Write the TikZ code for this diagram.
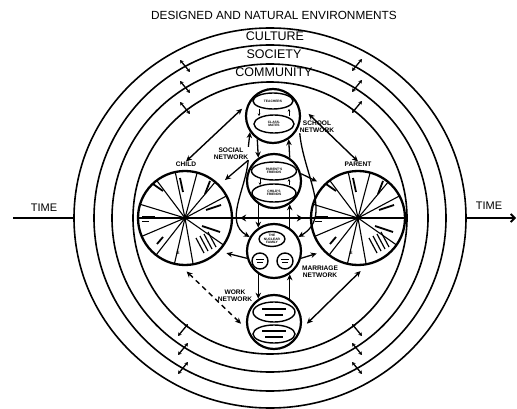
\documentclass[tikz,border=0pt]{standalone}
\usepackage{fontspec}
\setmainfont{Liberation Sans}
\usetikzlibrary{arrows.meta,shapes.geometric}
\tikzset{
  ring/.style={line width=1.6pt},
  ringlab/.style={font=\fontsize{12.5}{13}\selectfont, inner sep=0pt},
  timelab/.style={font=\fontsize{11}{12}\selectfont, inner sep=0pt},
  unit/.style={circle, draw, line width=2.2pt, minimum size=54pt, inner sep=0pt},
  wheelnode/.style={circle, draw, line width=2.3pt, minimum size=94pt, inner sep=0pt},
  ell/.style={ellipse, draw, line width=1.4pt, inner sep=0pt, font=\fontsize{3.3}{3.6}\selectfont\bfseries, align=center},
  lab/.style={font=\fontsize{6.6}{7.4}\selectfont\bfseries, align=center, inner sep=0pt},
  link/.style={<->, line width=1.4pt},
  conn/.style={->, line width=1.3pt},
  tiny/.style={->, line width=0.8pt, >={Stealth[length=2.5pt,width=2.5pt]}},
  xmark/.style={<->, line width=1.3pt, >={Stealth[length=3.5pt,width=4pt]}},
  spoke/.style={line width=1.1pt},
  blot/.style={line width=1.8pt},
  bar/.style={line width=1.3pt},
  wheel/.pic={
    \foreach \a in {0,28,50,75,102,127,163,180,203,232,257,280,325}
      \draw[spoke] (0,0) -- (-\a:47);
    \draw[blot] (-5,-40) -- (-2,-26);
    \draw[blot] (25,-37) -- (20,-24);
    \draw[blot] (36,-13) -- (21,-8);
    \draw[blot] (17,8) -- (35,14);
    \draw[blot] (-22,-27) -- (-32,-34);
    \draw[blot] (-22,19) -- (-28,26);
    \draw[line width=1pt] (-43,-2) -- (-30,-2);
    \draw[line width=1pt] (-43,3) -- (-36,3);
    \foreach \d in {0,4,8,12} \draw[line width=1.2pt] (11+\d,20-\d/2) -- (19+\d,35-\d/2);
    \node[font=\fontsize{4.5}{4.5}\selectfont\bfseries, inner sep=0pt] at (-7,35) {E};
  },
}
\begin{document}
\begin{tikzpicture}[x=1pt,y=-1pt, >={Stealth[length=6pt,width=5.5pt]}]
\useasboundingbox (0,0) rectangle (517,409);
% environment rings
\foreach \rx/\ry in {137pt/136pt,158pt/154pt,176pt/173pt,196pt/190pt}
  \draw[ring] (270,218) ellipse [x radius=\rx, y radius=\ry];
\node[font=\fontsize{11.8}{13}\selectfont, inner sep=0pt] (title) at (274,15) {DESIGNED AND NATURAL ENVIRONMENTS};
\node[ringlab] (culture) at (275,36) {CULTURE};
\node[ringlab] (society) at (274,54) {SOCIETY};
\node[ringlab] (community) at (274,72) {COMMUNITY};
% time axis
\node[timelab] (timeL) at (44,208) {TIME};
\node[timelab] (timeR) at (489,206) {TIME};
\coordinate (tL0) at (13,218);
\coordinate (tL1) at (74,218);
\coordinate (tR0) at (466,218);
\coordinate (tR1) at (516,218);
\draw[line width=1.8pt] (tL0) -- (tL1);
\draw[line width=1.8pt, -{Straight Barb[length=4pt,width=8pt]}] (tR0) -- (tR1);
% boundary crossing marks
\foreach \x/\y in {185/66,185/87,185/108}
  \draw[xmark] (\x-5,\y-6) -- (\x+5,\y+6);
\foreach \x/\y in {357/65,357/86,357/107}
  \draw[xmark] (\x+5,\y-6) -- (\x-5,\y+6);
\foreach \x/\y in {183/330,183/349,183/368}
  \draw[xmark] (\x-5,\y+6) -- (\x+5,\y-6);
\foreach \x/\y in {357/330,357/349,357/368}
  \draw[xmark] (\x+5,\y+6) -- (\x-5,\y-6);
% wheels
\pic at (185,218) {wheel};
\pic at (358,218) {wheel};
\node[wheelnode] (child) at (185,218) {};
\node[wheelnode] (parent) at (358,218) {};
\node[lab] (childlab) at (186,164) {CHILD};
\node[lab] (parentlab) at (358,164) {PARENT};
% horizontal link
\draw[line width=1.2pt] (child.center) -- (parent.center);
\draw[<->, line width=2.8pt, >={Stealth[length=6pt,width=7pt]}, shorten <=7pt, shorten >=7pt] (child.east) -- (parent.west);
% network units
\node[unit] (school) at (273,116) {};
\node[ell, minimum width=40pt, minimum height=16pt] (teachers) at (273,101) {TEACHERS};
\node[ell, minimum width=40pt, minimum height=18pt] (classmates) at (274,124) {CLASS-\\MATES};
\draw[tiny] (259,109) -- (259,116);
\draw[tiny] (289,116) -- (289,109);
\node[unit] (friends) at (274,181) {};
\node[ell, minimum width=45pt, minimum height=18pt] (pfriends) at (274,171) {PARENT'S\\FRIENDS};
\node[ell, minimum width=44pt, minimum height=18pt] (cfriends) at (274,193) {CHILD'S\\FRIENDS};
\draw[tiny] (260,179) -- (260,185);
\draw[tiny] (289,185) -- (289,179);
\node[unit] (family) at (274,251) {};
\node[ell, minimum width=26pt, minimum height=15pt] (nuclear) at (272,239) {THE\\NUCLEAR\\FAMILY};
\node[ell, minimum width=16pt, minimum height=16pt] (fam1) at (260,261) {};
\node[ell, minimum width=16pt, minimum height=16pt] (fam2) at (285,261) {};
\foreach \n in {fam1,fam2} {
  \draw[line width=0.9pt] ([xshift=-4pt,yshift=1.5pt]\n.center) -- ([xshift=4pt,yshift=1.5pt]\n.center);
  \draw[line width=0.9pt] ([xshift=-3pt,yshift=-1.5pt]\n.center) -- ([xshift=3pt,yshift=-1.5pt]\n.center);
}
\node[unit] (work) at (274,322) {};
\node[ell, minimum width=42pt, minimum height=20pt] (work1) at (274,312) {};
\node[ell, minimum width=42pt, minimum height=18pt] (work2) at (274,334) {};
\foreach \n in {work1,work2} {
  \draw[bar] ([xshift=-12pt,yshift=3pt]\n.center) -- ([xshift=12pt,yshift=3pt]\n.center);
  \draw[bar] ([xshift=-9pt,yshift=-3pt]\n.center) -- ([xshift=9pt,yshift=-3pt]\n.center);
}
% vertical links between units
\draw[conn] (school.236) -- (friends.124);
\draw[conn] (friends.56) -- (school.304);
\draw[conn] (friends.236) -- (family.124);
\draw[conn] (family.56) -- (friends.304);
\draw[conn] (family.236) -- (work.124);
\draw[conn] (work.56) -- (family.304);
% network labels
\node[lab] (socnet) at (231,154) {SOCIAL\\NETWORK};
\node[lab] (schoolnet) at (317,127) {SCHOOL\\NETWORK};
\node[lab] (marnet) at (320,272) {MARRIAGE\\NETWORK};
\node[lab] (worknet) at (235,296) {WORK\\NETWORK};
% long links
\draw[link, shorten >=8pt] (childlab.north) -- (school.153);
\draw[link, shorten <=14pt] (school.25) -- (parentlab.north);
\draw[link, dash pattern=on 5pt off 4pt, shorten <=8pt, shorten >=8pt] (child.265) -- (work.195);
\draw[link, shorten <=8pt, shorten >=8pt] (parent.280) -- (work.-15);
% links from networks to persons
\draw[conn, shorten >=7pt] (socnet.south east) -- (child.44);
\draw[conn, shorten >=7pt] (friends.15) -- (parent.136);
\draw[conn, shorten >=7pt] (family.195) -- (child.-44);
\draw[conn, shorten >=7pt] (family.-15) -- (parent.224);
% social and school network lines
\draw[conn, shorten <=1pt] (socnet.north east) -- (school.215);
\draw[conn] (socnet.south east) to[out=-95, in=150] (family.150);
\draw[conn] (schoolnet.south west) to[out=-85, in=30] (family.30);
\end{tikzpicture}
\end{document}
